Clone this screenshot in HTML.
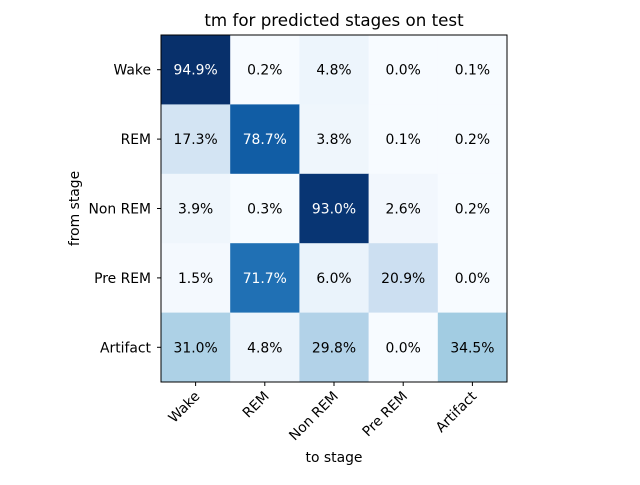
<!DOCTYPE html>
<html><head><meta charset="utf-8"><style>
html,body{margin:0;padding:0;background:#fff;}
svg text{font-family:"DejaVu Sans","Liberation Sans",sans-serif;}
</style></head><body>
<svg id="c" width="640" height="480" xmlns="http://www.w3.org/2000/svg"></svg>
<script>
const rowLabels = ["Wake","REM","Non REM","Pre REM","Artifact"];
const colLabels = ["Wake","REM","Non REM","Pre REM","Artifact"];
const row0 = [94.9,0.2,4.8,0.0,0.1];
const row1 = [17.3,78.7,3.8,0.1,0.2];
const row2 = [3.9,0.3,93.0,2.6,0.2];
const row3 = [1.5,71.7,6.0,20.9,0.0];
const row4 = [31.0,4.8,29.8,0.0,34.5];
const values = [row0,row1,row2,row3,row4];

const NS="http://www.w3.org/2000/svg";
const svg=document.getElementById('c');
const L=161,T=35,W=346,H=347;
const n=colLabels.length, m=rowLabels.length;
const cw=W/n, ch=H/m;
const xPos=i=>L+cw*(i+0.5);
const yPos=j=>T+ch*(j+0.5);
const stops=[[247,251,255],[222,235,247],[198,219,239],[158,202,225],[107,174,214],[66,146,198],[33,113,181],[8,81,156],[8,48,107]];
function blues(t){t=Math.max(0,Math.min(1,t));const p=t*8,i=Math.min(7,Math.floor(p)),f=p-i;
 const a=stops[i],b=stops[i+1];return 'rgb('+a.map((v,k)=>Math.round(v+(b[k]-v)*f)).join(',')+')';}
let vmax=-Infinity,vmin=Infinity;values.forEach(r=>r.forEach(v=>{vmax=Math.max(vmax,v);vmin=Math.min(vmin,v);}));
function mk(tag,attrs,txt){const e=document.createElementNS(NS,tag);for(const k in attrs)e.setAttribute(k,attrs[k]);if(txt!==undefined)e.textContent=txt;svg.appendChild(e);return e;}
values.forEach((r,j)=>r.forEach((v,i)=>{
 const t=(v-vmin)/(vmax-vmin);
 const rc=mk('rect',{x:L+cw*i,y:T+ch*j,width:cw+0.5,height:ch+0.5,fill:blues(t)});
 
 
 const tx=mk('text',{x:xPos(i),y:yPos(j)+5,'text-anchor':'middle','font-size':13.9,fill:t>0.5?'#fff':'#000'},v.toFixed(1)+'%');
 
 
}));
const fr=mk('rect',{x:L,y:T,width:W,height:H,fill:'none',stroke:'#000','stroke-width':1});


rowLabels.forEach((s,j)=>{
 mk('line',{x1:L-4,x2:L,y1:yPos(j),y2:yPos(j),stroke:'#000'});
 const t=mk('text',{x:L-10,y:yPos(j)+5,'text-anchor':'end','font-size':13.9},s);
 
 
});
colLabels.forEach((s,i)=>{
 mk('line',{x1:xPos(i),x2:xPos(i),y1:T+H,y2:T+H+4,stroke:'#000'});
 const x=xPos(i)+5,y=T+H+15;
 const t=mk('text',{x:x,y:y,'text-anchor':'end','font-size':13.9,transform:'rotate(-45 '+x+' '+y+')'},s);
 
 
});
const ti=mk('text',{x:L+W/2,y:26,'text-anchor':'middle','font-size':16.7},'tm for predicted stages on test');


const xl=mk('text',{x:L+W/2,y:462,'text-anchor':'middle','font-size':13.9},'to stage');


const yl=mk('text',{x:79,y:T+H/2,'text-anchor':'middle','font-size':13.9,transform:'rotate(-90 79 '+(T+H/2)+')'},'from stage');


</script>
</body></html>
